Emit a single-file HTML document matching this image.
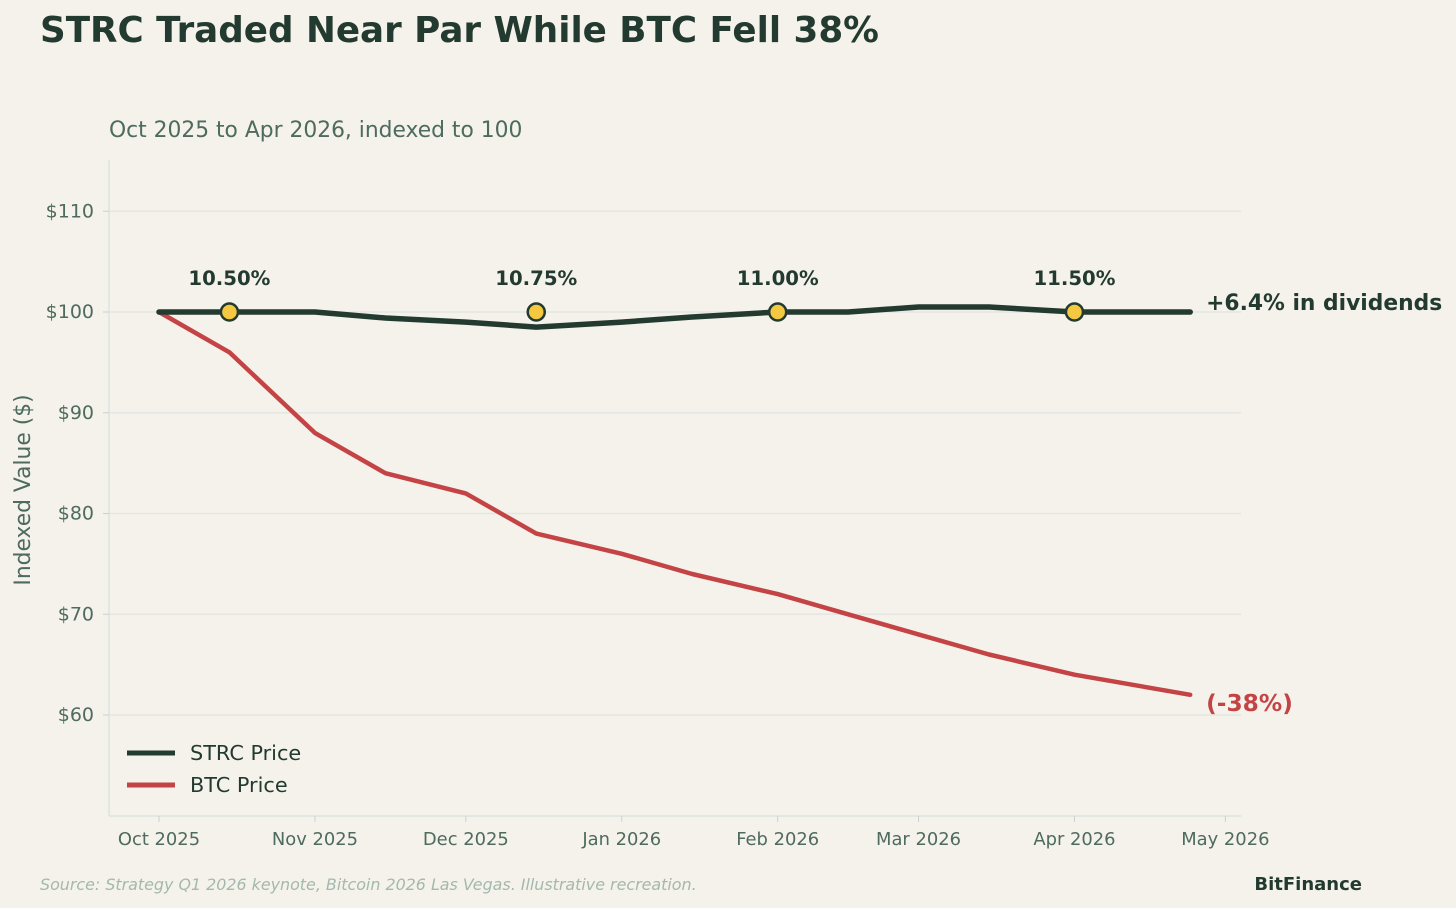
<!DOCTYPE html>
<html><head><meta charset="utf-8"><style>
html,body{margin:0;padding:0;background:#f5f2eb;}
svg{display:block;font-family:"DejaVu Sans","Liberation Sans",sans-serif;}
</style></head><body>
<svg id="chart" width="1456" height="908" viewBox="0 0 1456 908">
<rect width="1456" height="908" fill="#f5f2eb"/>
<text x="40" y="42" font-size="35.7" font-weight="bold" fill="#233a30">STRC Traded Near Par While BTC Fell 38%</text>
<text x="109" y="137" font-size="21.8" fill="#4d6b5e">Oct 2025 to Apr 2026, indexed to 100</text>
<g id="grid"></g>
<line x1="109" y1="160" x2="109" y2="816" stroke="#dde3e0" stroke-width="1.5"/>
<line x1="109" y1="816" x2="1241" y2="816" stroke="#dde3e0" stroke-width="1.5"/>
<g id="yticks"></g><g id="xticks"></g>
<text transform="translate(30,490) rotate(-90)" text-anchor="middle" font-size="21.8" fill="#4d6b5e">Indexed Value ($)</text>
<g id="series"></g>
<g>
<line x1="127" y1="753" x2="175" y2="753" stroke="#233a30" stroke-width="5"/>
<text x="190" y="760" font-size="20.8" fill="#233a30">STRC Price</text>
<line x1="127" y1="785" x2="175" y2="785" stroke="#c44446" stroke-width="5"/>
<text x="190" y="792" font-size="20.8" fill="#233a30">BTC Price</text>
</g>
<text x="40" y="890" font-size="15.9" font-style="italic" fill="#a3b8ae">Source: Strategy Q1 2026 keynote, Bitcoin 2026 Las Vegas. Illustrative recreation.</text>
<text x="1362" y="890" text-anchor="end" font-size="18" font-weight="bold" fill="#233a30">BitFinance</text>
</svg>
<script>
const dates = ["2025-10-01","2025-10-15","2025-11-01","2025-11-15","2025-12-01","2025-12-15","2026-01-01","2026-01-15","2026-02-01","2026-02-15","2026-03-01","2026-03-15","2026-04-01","2026-04-24"];
const strcValues = [100,100,100,99.4,99,98.5,99,99.5,100,100,100.5,100.5,100,100];
const btcValues = [100,96,88,84,82,78,76,74,72,70,68,66,64,62];
const dividendDates = ["2025-10-15","2025-12-15","2026-02-01","2026-04-01"];
const dividendValues = [100,100,100,100];
const dividendLabels = ["10.50%","10.75%","11.00%","11.50%"];
const yTicks = [60,70,80,90,100,110];
const xTickDates = ["2025-10-01","2025-11-01","2025-12-01","2026-01-01","2026-02-01","2026-03-01","2026-04-01","2026-05-01"];
const xTickLabels = ["Oct 2025","Nov 2025","Dec 2025","Jan 2026","Feb 2026","Mar 2026","Apr 2026","May 2026"];
const NS="http://www.w3.org/2000/svg";
const t0=Date.UTC(2025,9,1);
function xs(d){const p=d.split("-").map(Number);const days=(Date.UTC(p[0],p[1]-1,p[2])-t0)/864e5;return 159+days*5.03;}
function ys(v){return 312-(v-100)*10.075;}
function mk(tag,attrs,parent,txt){const e=document.createElementNS(NS,tag);for(const k in attrs)e.setAttribute(k,attrs[k]);if(txt!=null)e.textContent=txt;parent.appendChild(e);return e;}
const grid=document.getElementById("grid"),yt=document.getElementById("yticks"),xt=document.getElementById("xticks"),ser=document.getElementById("series");
yTicks.forEach(v=>{
 const l=mk("line",{x1:109,x2:1241,y1:ys(v),y2:ys(v),stroke:"#e3e6e2","stroke-width":1.5},grid);
 
 
 const tk=mk("line",{x1:103,x2:109,y1:ys(v),y2:ys(v),stroke:"#c9d2ce"},yt);
 
 
 const t=mk("text",{x:94,y:ys(v)+6,"text-anchor":"end","font-size":19,fill:"#4d6b5e"},yt,"$"+v);
 
 
});
xTickDates.forEach((d,i)=>{
 const tk=mk("line",{x1:xs(d),x2:xs(d),y1:816,y2:822,stroke:"#c9d2ce"},xt);
 
 
 const t=mk("text",{x:xs(d),y:845,"text-anchor":"middle","font-size":17.9,fill:"#4d6b5e"},xt,xTickLabels[i]);
 
 
});
function path(vals){return vals.map((v,i)=>(i?"L":"M")+xs(dates[i]).toFixed(1)+","+ys(v).toFixed(1)).join(" ");}
const bp=mk("path",{d:path(btcValues),fill:"none",stroke:"#c44446","stroke-width":4.5,"stroke-linejoin":"round","stroke-linecap":"round"},ser);


const sp=mk("path",{d:path(strcValues),fill:"none",stroke:"#233a30","stroke-width":5.5,"stroke-linejoin":"round","stroke-linecap":"round"},ser);


dividendDates.forEach((d,i)=>{
 const c=mk("circle",{cx:xs(d),cy:ys(dividendValues[i]),r:8.5,fill:"#f5c842",stroke:"#233a30","stroke-width":2.5},ser);
 
 
 const t=mk("text",{x:xs(d),y:ys(dividendValues[i])-27,"text-anchor":"middle","font-size":19.7,"font-weight":"bold",fill:"#233a30"},ser,dividendLabels[i]);
 
 
});
const last=dates[dates.length-1];
const a1=mk("text",{x:xs(last)+16,y:ys(strcValues[strcValues.length-1])-2,"font-size":21.8,"font-weight":"bold",fill:"#233a30"},ser,"+6.4% in dividends");


const a2=mk("text",{x:xs(last)+16,y:ys(btcValues[btcValues.length-1])+16,"font-size":23.3,"font-weight":"bold",fill:"#c44446"},ser,"(-38%)");


</script>
</body></html>
